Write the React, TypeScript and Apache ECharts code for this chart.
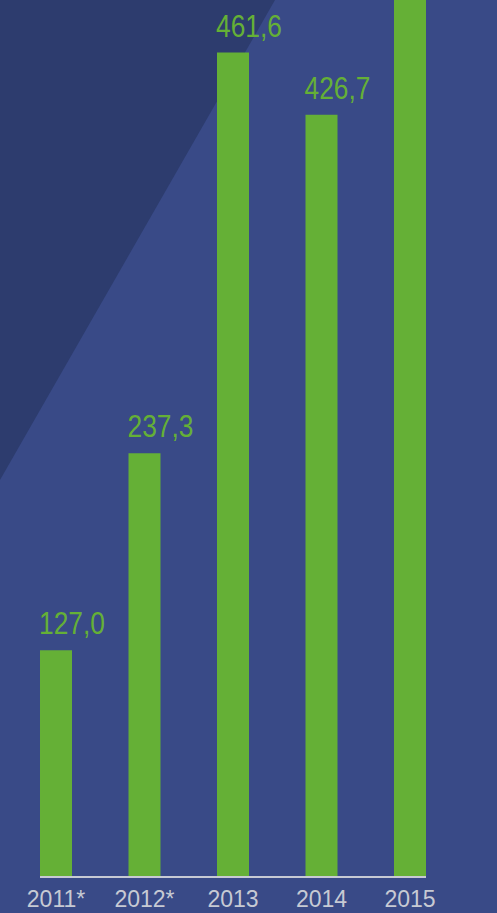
import React, { useEffect, useRef } from "react";
import * as echarts from "echarts";

const categories = ["2011*", "2012*", "2013", "2014", "2015"];
const values = [127.0, 237.3, 461.6, 426.7, 560];
const valueLabels = ["127,0", "237,3", "461,6", "426,7", ""];

const BG = "#394a87";
const DARK = "#2d3c6e";
const GREEN = "#65b036";
const AXIS = "#c7cad4";
const BAR_W = 32;

export default function App() {
  const ref = useRef<HTMLDivElement>(null);
  useEffect(() => {
    if (!ref.current) return;
    const chart = echarts.init(ref.current, undefined, { renderer: "svg" });
    const tri = {
      id: "tri",
      type: "polygon",
      z: -10,
      silent: true,
      shape: { points: [[0, 0], [275, 0], [0, 480]] },
      style: { fill: DARK },
    };
    const option: any = {
      animation: false,
      backgroundColor: BG,
      graphic: [tri],
      grid: { left: 11.75, width: 442.5, top: 0, bottom: 36, containLabel: false },
      xAxis: {
        type: "category",
        data: categories,
        boundaryGap: true,
        axisLine: { show: false },
        axisTick: { show: false },
        axisLabel: {
          color: AXIS,
          fontSize: 23,
          fontFamily: "Liberation Sans, sans-serif",
          margin: 10,
        },
      },
      yAxis: {
        type: "value",
        min: 0,
        max: 491,
        show: false,
        splitLine: { show: false },
      },
      series: [
        {
          type: "bar",
          data: values,
          barWidth: BAR_W,
          clip: true,
          itemStyle: { color: GREEN },
          label: { show: false },
        },
      ],
    };
    chart.setOption(option);
    const x0 = chart.convertToPixel({ xAxisIndex: 0 }, categories[0]) as number;
    const x1 = chart.convertToPixel({ xAxisIndex: 0 }, categories[categories.length - 1]) as number;
    const y0 = chart.convertToPixel({ yAxisIndex: 0 }, 0) as number;
    const labelEls: any[] = [];
    values.forEach((v, i) => {
      if (!valueLabels[i]) return;
      const p = chart.convertToPixel({ seriesIndex: 0 }, [i, v]) as number[];
      labelEls.push({
        id: "lbl" + i,
        type: "text",
        z: 20,
        silent: true,
        x: p[0] - BAR_W / 2 - 1,
        y: p[1] - 11,
        scaleX: 0.85,
        style: {
          text: valueLabels[i],
          fill: GREEN,
          fontSize: 31,
          fontFamily: "Liberation Sans, sans-serif",
          textAlign: "left",
          textVerticalAlign: "bottom",
        },
      });
    });
    chart.setOption({
      graphic: [
        tri,
        {
          id: "base",
          type: "line",
          z: 10,
          silent: true,
          shape: { x1: x0 - BAR_W / 2, y1: y0, x2: x1 + BAR_W / 2, y2: y0 },
          style: { stroke: AXIS, lineWidth: 2 },
        },
        ...labelEls,
      ],
    });
    return () => chart.dispose();
  }, []);
  return (
    <div
      ref={ref}
      style={{ position: "absolute", left: 0, top: 0, width: 497, height: 913 }}
    />
  );
}
